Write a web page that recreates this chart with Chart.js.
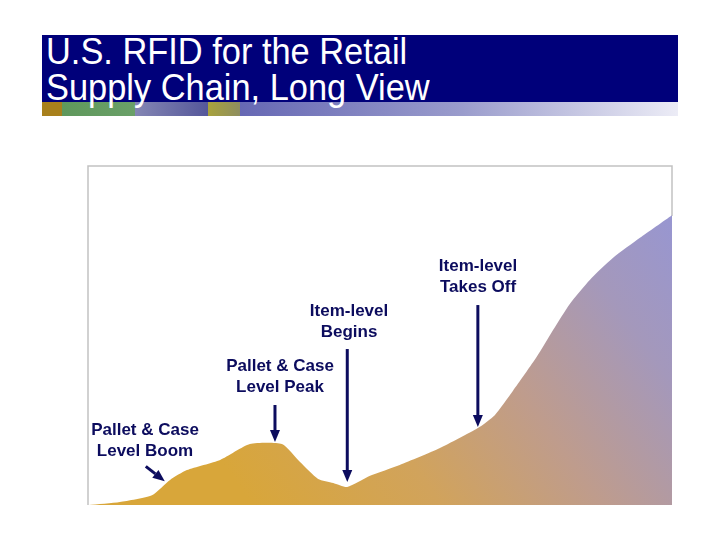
<!DOCTYPE html>
<html>
<head>
<meta charset="utf-8">
<script src="https://cdn.jsdelivr.net/npm/chart.js@4.4.0/dist/chart.umd.min.js"></script>
<style>
  html, body { margin: 0; padding: 0; background: #fff; }
  #page { position: relative; width: 720px; height: 540px; overflow: hidden; }
  #banner { position: absolute; left: 42px; top: 35px; width: 636px; height: 67px; background: #00007a; }
  #strip {
    position: absolute; left: 42px; top: 102px; width: 636px; height: 14px;
    background: linear-gradient(to right,
      #a8801c 0px, #a8801c 20px,
      #5f985c 20px, #6aa068 93px,
      #8486b4 93px, #55579a 166px,
      #a8a23c 166px, #8e8e60 198px,
      #6668b4 198px, #9a9ccc 420px, #ececf6 636px);
  }
  #title {
    position: absolute; left: 46px; top: 33px; color: #fff;
    font-family: "Liberation Sans", Arial, sans-serif; font-size: 34.4px; line-height: 34px;
    transform: scaleY(1.06); transform-origin: left top; white-space: nowrap;
  }
  #chart { position: absolute; left: 0; top: 0; }
</style>
</head>
<body>
<div id="page">
  <div id="banner"></div>
  <div id="strip"></div>
  <div id="title">U.S. RFID for the Retail<br>Supply Chain, Long View</div>
  <canvas id="chart" width="720" height="540"></canvas>
</div>
<script>
// Relative time (0-100) and relative market level (0-100)
const timeline = [0, 5.3, 10.8, 13.9, 16.8, 22.5, 27.6, 33.1, 36.2, 39.3, 41.9, 44.3, 48.2, 53.3, 60.2, 66.7, 69.6, 72.7, 76.8, 79.6, 82.5, 85.9, 89.9, 94.5, 100];
const market = [0, 0.9, 2.9, 7.4, 10.3, 13.3, 18.0, 18.0, 12.7, 7.7, 6.5, 5.3, 8.6, 11.8, 16.8, 22.7, 26.5, 33.6, 43.7, 51.6, 59.4, 66.4, 72.9, 78.8, 85.5];

// Milestones: label lines and the time they point at
const milestoneLabels = [
  ['Pallet & Case', 'Level Boom'],
  ['Pallet & Case', 'Level Peak'],
  ['Item-level', 'Begins'],
  ['Item-level', 'Takes Off']
];
const milestoneTimes = [13.0, 31.9, 44.3, 66.7];

// label placement (pixels): text centre x, first line y, arrow tail relative to tip
const milestoneLayout = [
  { tx: 145, ty: 430, dx: -19, dy: -15, gap: 3 },
  { tx: 280, ty: 366, dx: 0, dy: -37, gap: 2 },
  { tx: 349, ty: 311, dx: 0, dy: -133, gap: 5 },
  { tx: 478, ty: 266, dx: 0, dy: -122, gap: 1 }
];

const navy = '#0c0c5e';

function levelAt(t) {
  for (let i = 1; i < timeline.length; i++) {
    if (t <= timeline[i]) {
      const f = (t - timeline[i - 1]) / (timeline[i] - timeline[i - 1]);
      return market[i - 1] + f * (market[i] - market[i - 1]);
    }
  }
  return market[market.length - 1];
}

function drawArrow(ctx, x0, y0, x1, y1) {
  const ang = Math.atan2(y1 - y0, x1 - x0);
  const head = 12, half = 5;
  ctx.save();
  ctx.strokeStyle = navy;
  ctx.fillStyle = navy;
  ctx.lineWidth = 3;
  ctx.beginPath();
  ctx.moveTo(x0, y0);
  ctx.lineTo(x1 - Math.cos(ang) * head, y1 - Math.sin(ang) * head);
  ctx.stroke();
  ctx.beginPath();
  ctx.moveTo(x1, y1);
  ctx.lineTo(x1 - Math.cos(ang) * head - Math.sin(ang) * half, y1 - Math.sin(ang) * head + Math.cos(ang) * half);
  ctx.lineTo(x1 - Math.cos(ang) * head + Math.sin(ang) * half, y1 - Math.sin(ang) * head - Math.cos(ang) * half);
  ctx.closePath();
  ctx.fill();
  ctx.restore();
}

const framePlugin = {
  id: 'frame',
  beforeDatasetsDraw(chart) {
    const { ctx, chartArea: a } = chart;
    ctx.save();
    ctx.strokeStyle = '#c2c2c2';
    ctx.lineWidth = 1.5;
    ctx.beginPath();
    ctx.moveTo(a.left - 1, a.bottom);
    ctx.lineTo(a.left - 1, a.top);
    ctx.lineTo(a.right, a.top);
    ctx.lineTo(a.right, a.top + 50);
    ctx.stroke();
    ctx.restore();
  },
  afterDatasetsDraw(chart) {
    const { ctx, scales } = chart;
    ctx.save();
    ctx.font = 'bold 17px "Liberation Sans", Arial, sans-serif';
    ctx.textAlign = 'center';
    ctx.textBaseline = 'middle';
    ctx.fillStyle = navy;
    milestoneLabels.forEach((lines, i) => {
      const lay = milestoneLayout[i];
      lines.forEach((ln, j) => ctx.fillText(ln, lay.tx, lay.ty + j * 21));
      const t = milestoneTimes[i];
      const x1 = scales.x.getPixelForValue(t);
      const y1 = scales.y.getPixelForValue(levelAt(t)) - lay.gap;
      drawArrow(ctx, x1 + lay.dx, y1 + lay.dy, x1, y1);
    });
    ctx.restore();
  }
};

new Chart(document.getElementById('chart'), {
  type: 'line',
  data: {
    datasets: [{
      data: timeline.map((t, i) => ({ x: t, y: market[i] })),
      fill: 'origin',
      borderWidth: 0,
      pointRadius: 0,
      tension: 0.2,
      backgroundColor(context) {
        const { ctx, chartArea: a } = context.chart;
        if (!a) return '#d4a53a';
        const g = ctx.createLinearGradient(a.left + 0.28 * (a.right - a.left), a.bottom, a.right, a.top + 40);
        g.addColorStop(0, '#d8a63a');
        g.addColorStop(0.3, '#d1a35c');
        g.addColorStop(0.55, '#bf9c8c');
        g.addColorStop(0.8, '#a498bb');
        g.addColorStop(1, '#9796d2');
        return g;
      }
    }]
  },
  options: {
    responsive: false,
    animation: false,
    layout: { padding: { left: 89, right: 48, top: 166, bottom: 35 } },
    plugins: { legend: { display: false }, tooltip: { enabled: false } },
    scales: {
      x: { type: 'linear', min: 0, max: 100, display: false },
      y: { min: 0, max: 100, display: false }
    }
  },
  plugins: [framePlugin]
});
</script>
</body>
</html>
